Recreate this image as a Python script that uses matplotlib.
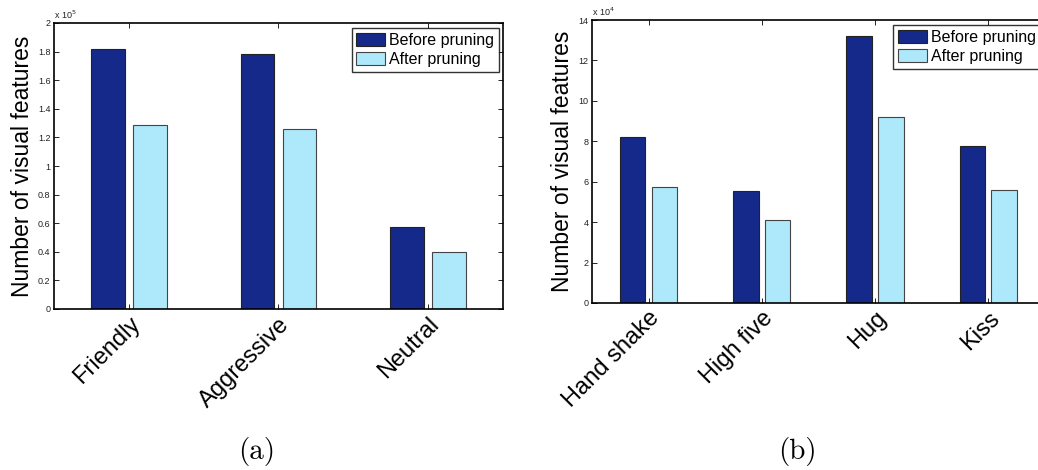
import matplotlib
matplotlib.use("Agg")
import matplotlib.pyplot as plt
import matplotlib.transforms as mtransforms
import numpy as np

# ---- data ----
cats_a = ["Friendly", "Aggressive", "Neutral"]
before_a = [1.82e5, 1.78e5, 0.57e5]
after_a = [1.29e5, 1.26e5, 0.40e5]
yticks_a = [0, 0.2e5, 0.4e5, 0.6e5, 0.8e5, 1.0e5, 1.2e5, 1.4e5, 1.6e5, 1.8e5, 2.0e5]
yticklabels_a = ["0", "0.2", "0.4", "0.6", "0.8", "1", "1.2", "1.4", "1.6", "1.8", "2"]

cats_b = ["Hand shake", "High five", "Hug", "Kiss"]
before_b = [8.2e4, 5.55e4, 13.2e4, 7.75e4]
after_b = [5.75e4, 4.1e4, 9.2e4, 5.6e4]
yticks_b = [0, 2e4, 4e4, 6e4, 8e4, 10e4, 12e4, 14e4]
yticklabels_b = ["0", "2", "4", "6", "8", "10", "12", "14"]

series_names = ["Before pruning", "After pruning"]
dark = "#14298a"
light = "#aee9fb"

W, H = 1038, 470
fig = plt.figure(figsize=(W / 100, H / 100), dpi=100)
plt.rcParams['font.family'] = ['Liberation Sans', 'DejaVu Sans']


def px_axes(l, t, r, b):
    return fig.add_axes([l / W, 1 - b / H, (r - l) / W, (b - t) / H])


def draw(ax, cats, before, after, yticks, ylabels, ymax, exp, panel_label, lab_x):
    x = np.arange(1, len(cats) + 1)
    off, bw = 0.14, 0.225
    ax.bar(x - off, before, bw, color=dark, edgecolor="#222222", linewidth=0.8,
           label=series_names[0], zorder=2)
    ax.bar(x + off, after, bw, color=light, edgecolor="#444444", linewidth=0.8,
           label=series_names[1], zorder=2)
    ax.set_xlim(0.5, len(cats) + 0.5)
    ax.set_ylim(0, ymax)
    ax.set_yticks(yticks)
    ax.set_yticklabels(ylabels, fontsize=6.5, color="#222222")
    ax.set_xticks(x)
    ax.set_xticklabels(cats, fontsize=17, rotation=45, ha="right", va="top",
                       rotation_mode="anchor")
    offset = mtransforms.ScaledTranslation(13 / 100, -2 / 100, fig.dpi_scale_trans)
    for lbl in ax.get_xticklabels():
        lbl.set_transform(lbl.get_transform() + offset)
    ax.tick_params(axis="both", direction="in", length=3.5, width=0.6,
                   top=True, right=True, pad=2.5)
    ax.tick_params(axis="x", pad=3)
    for s in ax.spines.values():
        s.set_linewidth(1.2)
    ax.set_ylabel("Number of visual features", fontsize=16.5, labelpad=3)
    ax.text(0.0, 1.008, r"x 10$^{%d}$" % exp, transform=ax.transAxes,
            fontsize=6.5, ha="left", va="bottom", color="#222222")
    leg = ax.legend(loc="upper right", bbox_to_anchor=(0.991, 0.983),
                    borderaxespad=0, fontsize=11.5, frameon=True, fancybox=False,
                    edgecolor="black", handlelength=1.8, handleheight=0.9,
                    handletextpad=0.25, borderpad=0.3, labelspacing=0.25)
    leg.get_frame().set_linewidth(1.0)
    fig.text(lab_x / W, 1 - 452 / H, panel_label, fontsize=21, family="cmr10",
             ha="center", va="center")


ax1 = px_axes(54, 23, 503, 309)
draw(ax1, cats_a, before_a, after_a, yticks_a, yticklabels_a, 2.0e5, 5, "(a)", 257)

ax2 = px_axes(592, 20, 1044.7, 303)
draw(ax2, cats_b, before_b, after_b, yticks_b, yticklabels_b, 14e4, 4, "(b)", 797)

fig.savefig("out.png", dpi=100)
